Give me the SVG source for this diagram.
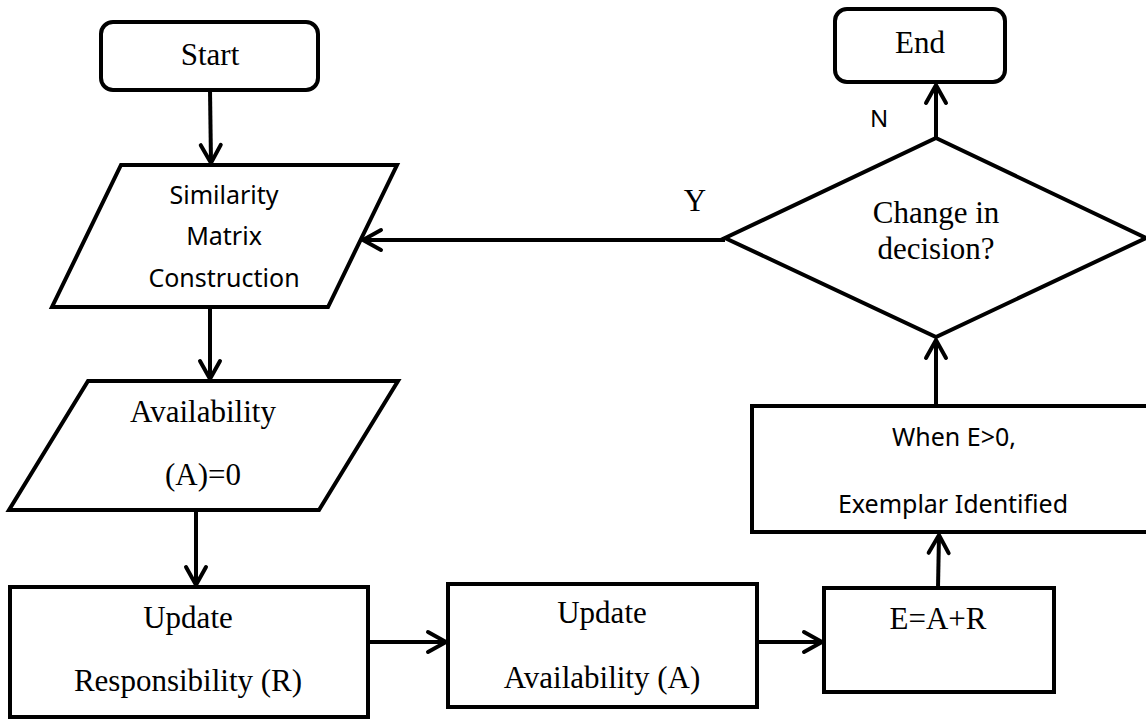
<svg xmlns="http://www.w3.org/2000/svg" width="1146" height="720" viewBox="0 0 1146 720">
<style>
.shape{fill:#fff;stroke:#000;stroke-width:4;stroke-linejoin:miter}
.conn{stroke:#000;stroke-width:4;fill:none}
.serif{font-family:"Liberation Serif","Times New Roman",serif;font-size:31px;fill:#000;text-anchor:middle}
.sans{font-family:"Noto Sans","Open Sans",sans-serif;font-size:25px;fill:#000;text-anchor:middle}
</style>
<defs>
<marker id="arr" markerUnits="userSpaceOnUse" markerWidth="30" markerHeight="30" viewBox="-22 -15 26 30" refX="0" refY="0" orient="auto">
<path d="M-18,-10 L0,0 L-18,10" fill="none" stroke="#000" stroke-width="4" stroke-linecap="round"/>
</marker>
</defs>
<rect width="1146" height="720" fill="#fff"/>
<g id="connectors">
<line class="conn" x1="210" y1="90" x2="211" y2="163" marker-end="url(#arr)"/>
<line class="conn" x1="210" y1="307" x2="210" y2="379" marker-end="url(#arr)"/>
<line class="conn" x1="196" y1="510" x2="196" y2="585" marker-end="url(#arr)"/>
<line class="conn" x1="368" y1="642" x2="446" y2="642" marker-end="url(#arr)"/>
<line class="conn" x1="757" y1="642" x2="822" y2="642" marker-end="url(#arr)"/>
<line class="conn" x1="938" y1="588" x2="939" y2="535" marker-end="url(#arr)"/>
<line class="conn" x1="936" y1="406" x2="936" y2="340" marker-end="url(#arr)"/>
<line class="conn" x1="936" y1="138" x2="936" y2="85" marker-end="url(#arr)"/>
<line class="conn" x1="725" y1="240" x2="363" y2="240" marker-end="url(#arr)"/>
<text class="sans" x="879" y="127" style="font-size:24px">N</text>
<text class="serif" x="695" y="211">Y</text>
</g>
<g id="start">
<rect class="shape" x="101" y="22" width="217" height="68" rx="12"/>
<text class="serif" x="210" y="65">Start</text>
</g>
<g id="similarity">
<polygon class="shape" points="121,165 397,165 328,307 52,307"/>
<text class="sans" x="224" y="204">Similarity</text>
<text class="sans" x="224" y="245">Matrix</text>
<text class="sans" x="224" y="287">Construction</text>
</g>
<g id="availability-init">
<polygon class="shape" points="88,381 398,381 319,510 9,510"/>
<text class="serif" x="203" y="422">Availability</text>
<text class="serif" x="203" y="485">(A)=0</text>
</g>
<g id="update-r">
<rect class="shape" x="10" y="587" width="358" height="130"/>
<text class="serif" x="188" y="628">Update</text>
<text class="serif" x="188" y="691">Responsibility (R)</text>
</g>
<g id="update-a">
<rect class="shape" x="448" y="584" width="309" height="123"/>
<text class="serif" x="602" y="623">Update</text>
<text class="serif" x="602" y="688">Availability (A)</text>
</g>
<g id="e-sum">
<rect class="shape" x="824" y="588" width="230" height="104"/>
<text class="serif" x="938" y="629">E=A+R</text>
</g>
<g id="exemplar">
<rect class="shape" x="752" y="406" width="400" height="126"/>
<text class="sans" x="954" y="446">When E&gt;0,</text>
<text class="sans" x="953" y="513">Exemplar Identified</text>
</g>
<g id="decision">
<polygon class="shape" points="936,138 1146,238 936,337 725,238"/>
<text class="serif" x="936" y="223">Change in</text>
<text class="serif" x="936" y="259">decision?</text>
</g>
<g id="end">
<rect class="shape" x="835" y="9" width="170" height="73" rx="12"/>
<text class="serif" x="920" y="53">End</text>
</g>
</svg>
